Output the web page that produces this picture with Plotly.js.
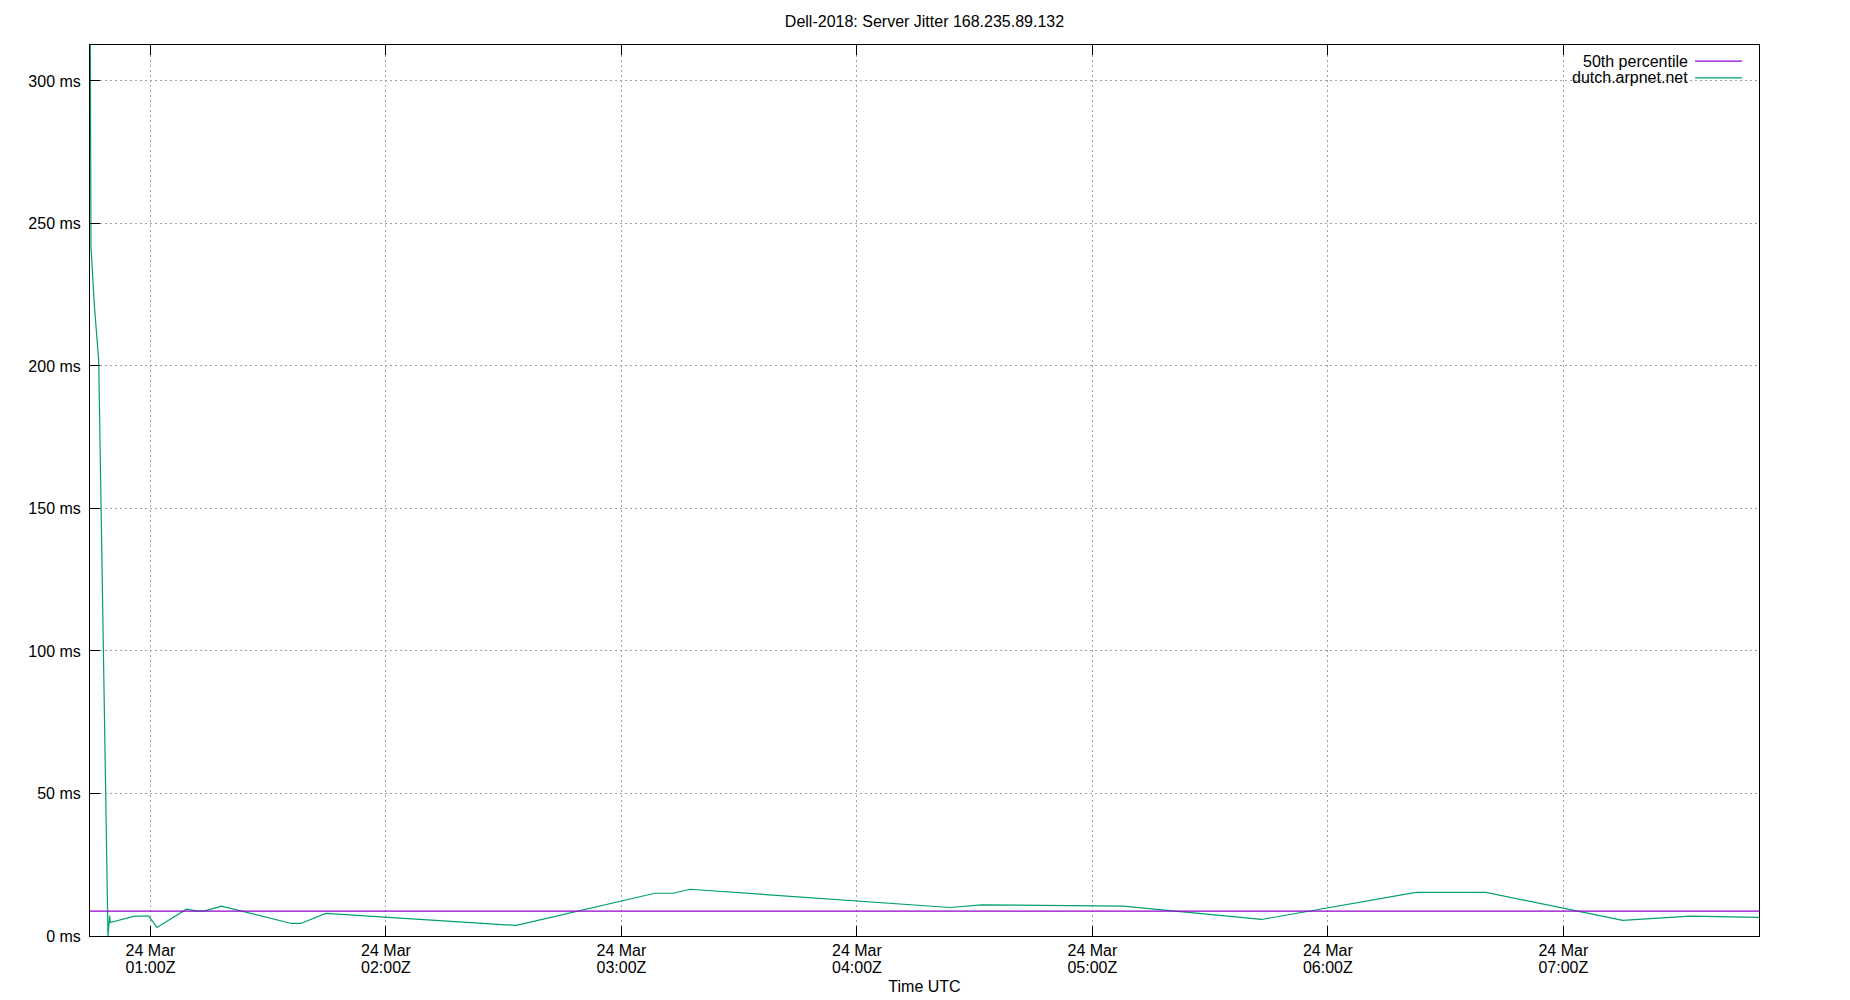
<!DOCTYPE html>
<html>
<head>
<meta charset="utf-8">
<script src="https://cdn.plot.ly/plotly-3.0.1.min.js"></script>
<style>html,body{margin:0;padding:0;background:#fff;}#chart{width:1850px;height:1000px;}</style>
</head>
<body>
<div id="chart"></div>
<script>
// ---- data ----
const chartTitle = "Dell-2018: Server Jitter 168.235.89.132";
const seriesNames = ["50th percentile", "dutch.arpnet.net"];
const seriesColors = ["#9400d3", "#009e73"];

const jitterTimes = [
  "2019-03-24 00:44:40", "2019-03-24 00:44:50", "2019-03-24 00:45:39", "2019-03-24 00:46:48",
  "2019-03-24 00:49:10", "2019-03-24 00:49:36", "2019-03-24 00:49:44", "2019-03-24 00:55:58",
  "2019-03-24 00:59:33", "2019-03-24 01:01:40", "2019-03-24 01:09:09", "2019-03-24 01:11:46",
  "2019-03-24 01:13:49", "2019-03-24 01:18:04", "2019-03-24 01:35:55", "2019-03-24 01:38:17",
  "2019-03-24 01:44:39", "2019-03-24 02:33:15", "2019-03-24 03:08:30", "2019-03-24 03:13:10",
  "2019-03-24 03:17:25", "2019-03-24 04:23:41", "2019-03-24 04:31:46", "2019-03-24 05:07:51",
  "2019-03-24 05:43:07", "2019-03-24 06:22:27", "2019-03-24 06:40:17", "2019-03-24 07:15:08",
  "2019-03-24 07:32:17", "2019-03-24 07:49:52"
];
const jitterMs = [
  312.5, 242, 222, 202,
  0, 7.2, 4.7, 7.0,
  7.0, 3.0, 9.4, 8.8,
  8.8, 10.5, 4.4, 4.4,
  7.9, 3.7, 15.0, 15.0,
  16.4, 10.0, 10.9, 10.5,
  5.8, 15.3, 15.3, 5.5,
  7.0, 6.5
];

const percentileTimes = ["2019-03-24 00:44:35", "2019-03-24 07:49:52"];
const percentileMs = [8.7, 8.7];

const xRange = ["2019-03-24 00:44:35", "2019-03-24 07:49:52"];
const yRange = [0, 312.6];

const xTickVals = [
  "2019-03-24 01:00:00", "2019-03-24 02:00:00", "2019-03-24 03:00:00", "2019-03-24 04:00:00",
  "2019-03-24 05:00:00", "2019-03-24 06:00:00", "2019-03-24 07:00:00"
];
const xTickDates = ["24 Mar", "24 Mar", "24 Mar", "24 Mar", "24 Mar", "24 Mar", "24 Mar"];
const xTickClock = ["01:00Z", "02:00Z", "03:00Z", "04:00Z", "05:00Z", "06:00Z", "07:00Z"];
const yTickVals = [0, 50, 100, 150, 200, 250, 300];
const yTickText = ["0 ms", "50 ms", "100 ms", "150 ms", "200 ms", "250 ms", "300 ms"];

// ---- chart ----
const traces = [
  {
    x: percentileTimes, y: percentileMs, name: seriesNames[0], type: "scatter", mode: "lines",
    xaxis: "x2", yaxis: "y",
    line: {color: seriesColors[0], width: 1.3}, showlegend: false, hoverinfo: "x+y"
  },
  {
    x: jitterTimes, y: jitterMs, name: seriesNames[1], type: "scatter", mode: "lines",
    xaxis: "x", yaxis: "y",
    line: {color: seriesColors[1], width: 1.2}, showlegend: false, hoverinfo: "x+y"
  }
];

const gridStyle = {showgrid: true, gridcolor: "#a0a0a0", gridwidth: 1, griddash: "2px,3px"};

const legendRows = [0.9820, 0.9630];
const legendTextX = 0.9578;
const annotations = seriesNames.map((n, i) => ({
  xref: "paper", yref: "paper", x: legendTextX, y: legendRows[i], xanchor: "right", yanchor: "middle",
  text: n, showarrow: false, borderpad: 0, font: {size: 16, color: "#000"}
}));
const shapes = [
  {type: "rect", xref: "paper", yref: "paper", x0: 0.8694, x1: 0.9934, y0: 0.9517, y1: 0.992,
   fillcolor: "#fff", line: {width: 0}, layer: "between"}
].concat(seriesNames.map((n, i) => ({
  type: "line", xref: "paper", yref: "paper", x0: 0.9617, x1: 0.9898, y0: legendRows[i], y1: legendRows[i],
  line: {color: seriesColors[i], width: 1.3}, layer: "above"
})));

const layout = {
  width: 1850, height: 1000,
  margin: {l: 90, r: 91, t: 45, b: 64},
  paper_bgcolor: "#fff", plot_bgcolor: "#fff",
  font: {family: "Liberation Sans, Arial, sans-serif", size: 16, color: "#000"},
  title: {text: chartTitle, x: 0.5, xref: "paper", xanchor: "center", y: 0.979, yref: "container", yanchor: "middle",
          font: {size: 16, color: "#000"}},
  showlegend: false,
  xaxis: Object.assign({
    type: "date", range: xRange, tickmode: "array", tickvals: xTickVals, ticktext: xTickDates,
    ticks: "inside", ticklen: 10, tickwidth: 1, tickcolor: "#000",
    showline: true, linecolor: "#000", linewidth: 1, mirror: "allticks", zeroline: false,
    tickfont: {size: 16, color: "#000"}, automargin: false,
    title: {text: "Time UTC", standoff: 22, font: {size: 16, color: "#000"}}
  }, gridStyle),
  xaxis2: {
    type: "date", range: xRange, matches: "x", overlaying: "x", anchor: "y", side: "bottom",
    tickmode: "array", tickvals: xTickVals, ticktext: xTickClock,
    ticks: "", showline: false, showgrid: false, zeroline: false,
    tickfont: {size: 16, color: "#000"}, automargin: false, ticklabelstandoff: 20
  },
  yaxis: Object.assign({
    range: yRange, tickmode: "array", tickvals: yTickVals, ticktext: yTickText,
    ticks: "inside", ticklen: 10, tickwidth: 1, tickcolor: "#000",
    showline: true, linecolor: "#000", linewidth: 1, mirror: true, zeroline: false,
    tickfont: {size: 16, color: "#000"}, automargin: false, ticklabelstandoff: 5
  }, gridStyle),
  annotations: annotations,
  shapes: shapes
};

Plotly.newPlot("chart", traces, layout, {displayModeBar: false, staticPlot: true});
</script>
</body>
</html>
